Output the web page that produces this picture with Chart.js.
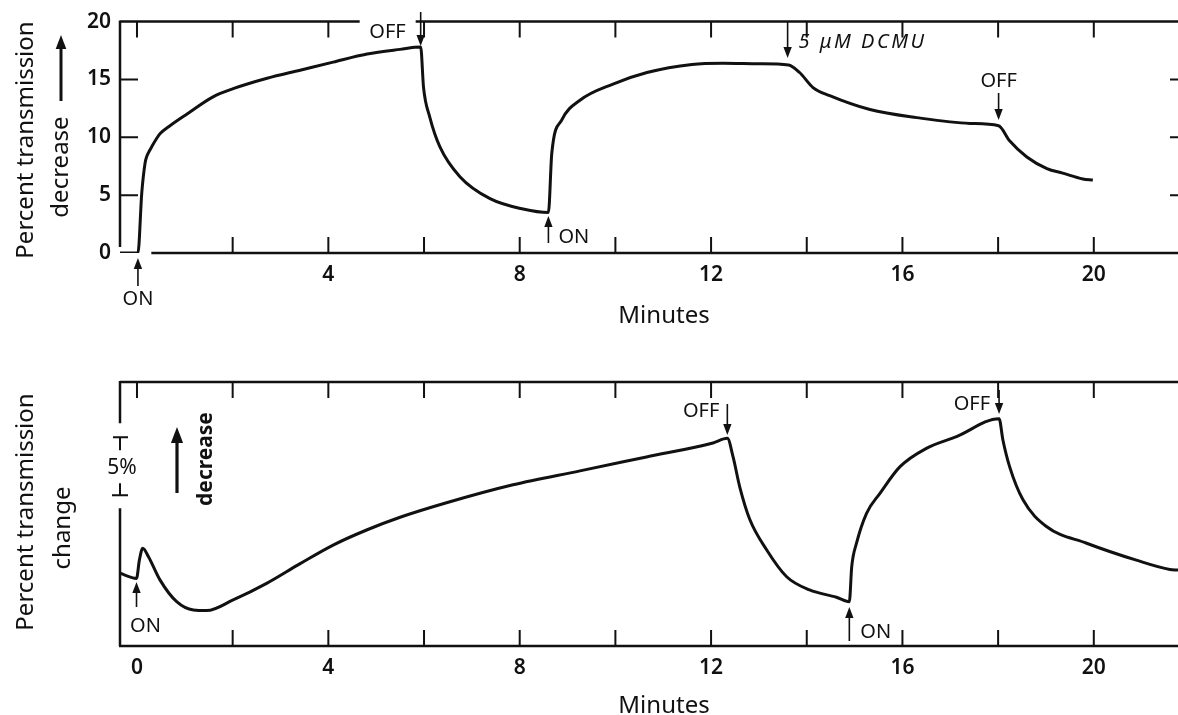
<!DOCTYPE html>
<html>
<head>
<meta charset="utf-8">
<script src="https://cdn.jsdelivr.net/npm/chart.js@4.4.1/dist/chart.umd.min.js"></script>
<style>
  html, body { margin: 0; padding: 0; background: #fff; }
  .panel { position: absolute; left: 0; }
  #top-chart { top: 0; }
  #bottom-chart { top: 345px; }
</style>
</head>
<body>
<canvas class="panel" id="top-chart" width="1178" height="345"></canvas>
<canvas class="panel" id="bottom-chart" width="1178" height="370"></canvas>
<script>
// ---- data ----
const tickMinutes = [0, 2, 4, 6, 8, 10, 12, 14, 16, 18, 20];
const topMinuteLabels = [4, 8, 12, 16, 20];
const bottomMinuteLabels = [0, 4, 8, 12, 16, 20];
const topSideTicks = [5, 10, 15];

// upper trace: percent transmission decrease vs minutes
const topMinutes = [-0.355, 0.02, 0.1, 0.17, 0.2, 0.27, 0.31, 0.41, 0.48, 0.69, 1.04, 1.59, 2.01, 2.72, 3.41, 4.1, 4.81, 5.5, 5.93, 5.99, 6.12, 6.33, 6.75, 7.38, 8.07, 8.6, 8.67, 8.88, 9.26, 9.95, 10.66, 11.6, 12.25, 13.0, 13.62, 13.85, 14.13, 14.48, 15.32, 16.3, 17.41, 18.01, 18.24, 18.6, 19.02, 19.35, 19.77, 19.98];
const topDecrease = [0, 0, 5.2, 7.8, 8.3, 8.9, 9.2, 9.9, 10.3, 11.0, 12.0, 13.5, 14.2, 15.1, 15.8, 16.5, 17.2, 17.6, 17.8, 14.3, 11.75, 9.2, 6.6, 4.7, 3.8, 3.5, 8.6, 11.5, 13.2, 14.6, 15.6, 16.3, 16.4, 16.35, 16.25, 15.6, 14.3, 13.6, 12.4, 11.7, 11.2, 11.0, 9.7, 8.3, 7.3, 6.9, 6.4, 6.3];

// lower trace: percent transmission change (relative) vs minutes
const bottomMinutes = [-0.355, -0.01, 0.05, 0.12, 0.24, 0.48, 0.83, 1.18, 1.46, 2.01, 2.71, 3.41, 4.1, 4.8, 5.5, 6.47, 7.86, 9.26, 10.65, 12.04, 12.34, 12.46, 12.6, 12.81, 13.16, 13.58, 14.06, 14.62, 14.89, 14.94, 15.04, 15.25, 15.53, 15.95, 16.5, 17.13, 18.02, 18.1, 18.24, 18.52, 19.01, 19.85, 20.89, 21.59, 21.76];
const bottomChange = [6.27, 5.83, 7.4, 8.42, 7.7, 5.7, 3.82, 3.1, 3.05, 3.97, 5.4, 7.1, 8.7, 10.0, 11.1, 12.35, 13.9, 15.1, 16.3, 17.5, 17.9, 16.3, 13.7, 10.9, 8.3, 5.97, 4.83, 4.2, 3.82, 6.84, 8.86, 11.44, 13.16, 15.46, 17.04, 18.05, 19.6, 17.76, 15.46, 12.6, 10.3, 8.86, 7.4, 6.6, 6.55];

const topEventMinutes = [0.02, 5.93, 8.6, 13.6, 18.01];
const topEventLabels = ["ON", "OFF", "ON", "5 \u03bcM DCMU", "OFF"];
const bottomEventMinutes = [-0.01, 12.34, 14.89, 18.02];
const bottomEventLabels = ["ON", "OFF", "ON", "OFF"];
const scaleBarRange = [13, 18]; // 5 % of transmission

// ---- layout ----
const INK = "#111";
const FONT = "'Noto Sans', 'DejaVu Sans', sans-serif";
const BOTTOM_TOP = 345;

// tail / tip of each arrow and the label anchor, page pixels
const topEventLayout = [
  { tail: 286, tip: 258, dx: 0, ty: 305, align: "center" },
  { tail: 12, tip: 46, dx: -15, ty: 38, align: "right", gap: true },
  { tail: 243, tip: 216, dx: 10, ty: 243, align: "left" },
  { tail: 22, tip: 58, dx: 11, ty: 48, align: "left", italic: true, spacing: "2.5px" },
  { tail: 93, tip: 120, dx: 0, ty: 87, align: "center" },
];
const bottomEventLayout = [
  { tail: 607, tip: 582, dx: 9, ty: 632, align: "center" },
  { tail: 404, tip: 435, dx: -8, ty: 417, align: "right" },
  { tail: 641, tip: 607, dx: 11, ty: 638, align: "left" },
  { tail: 390, tip: 414, dx: -9, ty: 410, align: "right" },
];

function arrow(ctx, x, yTail, yTip, width, head) {
  const dir = Math.sign(yTip - yTail);
  ctx.lineWidth = width;
  ctx.beginPath();
  ctx.moveTo(x, yTail);
  ctx.lineTo(x, yTip - dir * head * 0.8);
  ctx.stroke();
  ctx.beginPath();
  ctx.moveTo(x, yTip);
  ctx.lineTo(x - head * 0.38, yTip - dir * head);
  ctx.lineTo(x + head * 0.38, yTip - dir * head);
  ctx.closePath();
  ctx.fill();
}

function verticalText(ctx, text, x, yCenter, font) {
  ctx.save();
  ctx.translate(x, yCenter);
  ctx.rotate(-Math.PI / 2);
  ctx.font = font;
  ctx.textAlign = "center";
  ctx.textBaseline = "alphabetic";
  ctx.fillText(text, 0, 0);
  ctx.restore();
}

function drawEvents(ctx, xScale, minutes, labels, layout, offset) {
  minutes.forEach((m, i) => {
    const l = layout[i];
    const px = xScale.getPixelForValue(m);
    if (l.gap) {
      ctx.fillStyle = "#fff";
      ctx.fillRect(px - 61, 14 - offset, 56, 12);
      ctx.fillStyle = INK;
    }
    arrow(ctx, px, l.tail - offset, l.tip - offset, 1.6, 11);
    ctx.font = (l.italic ? "italic " : "") + "20px " + FONT;
    ctx.letterSpacing = l.spacing || "0px";
    ctx.textAlign = l.align;
    ctx.textBaseline = "alphabetic";
    ctx.fillText(labels[i], px + l.dx, l.ty - offset);
    ctx.letterSpacing = "0px";
  });
}

function frameTicks(ctx, a, xScale, tickLen) {
  ctx.lineWidth = 2;
  ctx.beginPath();
  tickMinutes.forEach((m) => {
    const px = xScale.getPixelForValue(m);
    ctx.moveTo(px, a.top);
    ctx.lineTo(px, a.top + tickLen);
    if (m !== 0) {
      ctx.moveTo(px, a.bottom);
      ctx.lineTo(px, a.bottom - tickLen);
    }
  });
  ctx.stroke();
}

const topDecor = {
  id: "topDecor",
  beforeDatasetsDraw(chart) {
    const { ctx, chartArea: a, scales: { x, y } } = chart;
    ctx.save();
    ctx.strokeStyle = INK;
    ctx.lineWidth = 2.5;
    ctx.beginPath();
    ctx.moveTo(a.left, a.top);
    ctx.lineTo(a.right, a.top);
    ctx.moveTo(a.left, a.top - 1);
    ctx.lineTo(a.left, a.bottom - 6);
    ctx.moveTo(x.getPixelForValue(0.3), a.bottom);
    ctx.lineTo(a.right, a.bottom);
    ctx.stroke();
    frameTicks(ctx, a, x, 16);
    ctx.beginPath();
    topSideTicks.forEach((v) => {
      const py = y.getPixelForValue(v);
      ctx.moveTo(a.left, py);
      ctx.lineTo(a.left + 18, py);
      ctx.moveTo(a.right - 8, py);
      ctx.lineTo(a.right, py);
    });
    ctx.stroke();
    ctx.restore();
  },
  afterDraw(chart) {
    const { ctx, scales: { x } } = chart;
    ctx.save();
    ctx.fillStyle = INK;
    ctx.strokeStyle = INK;
    verticalText(ctx, "Percent transmission", 33, 140, "24px " + FONT);
    verticalText(ctx, "decrease", 68, 167, "24px " + FONT);
    arrow(ctx, 61, 101, 35, 3, 14);
    ctx.font = "24px " + FONT;
    ctx.textAlign = "center";
    ctx.fillText("Minutes", 664, 323);
    drawEvents(ctx, x, topEventMinutes, topEventLabels, topEventLayout, 0);
    ctx.restore();
  },
};

const bottomDecor = {
  id: "bottomDecor",
  beforeDatasetsDraw(chart) {
    const { ctx, chartArea: a, scales: { x, y } } = chart;
    const barTop = y.getPixelForValue(scaleBarRange[1]);
    const barBottom = y.getPixelForValue(scaleBarRange[0]);
    ctx.save();
    ctx.strokeStyle = INK;
    ctx.fillStyle = INK;
    ctx.lineWidth = 2.5;
    ctx.beginPath();
    ctx.moveTo(a.left, a.top);
    ctx.lineTo(a.right, a.top);
    ctx.moveTo(a.left, a.top - 1);
    ctx.lineTo(a.left, barTop - 14);
    ctx.moveTo(a.left, barBottom + 13);
    ctx.lineTo(a.left, a.bottom);
    ctx.moveTo(a.left - 1, a.bottom);
    ctx.lineTo(a.right, a.bottom);
    ctx.stroke();
    frameTicks(ctx, a, x, 16);
    // 5 % scale bar
    ctx.lineWidth = 2;
    ctx.beginPath();
    ctx.moveTo(a.left - 7, barTop);
    ctx.lineTo(a.left + 8, barTop);
    ctx.moveTo(a.left, barTop);
    ctx.lineTo(a.left, barTop + 13);
    ctx.moveTo(a.left - 8, barBottom);
    ctx.lineTo(a.left + 8, barBottom);
    ctx.moveTo(a.left, barBottom);
    ctx.lineTo(a.left, barBottom - 12);
    ctx.stroke();
    ctx.font = "21px " + FONT;
    ctx.textAlign = "center";
    ctx.fillText("5%", a.left + 2, (barTop + barBottom) / 2 + 8);
    ctx.restore();
  },
  afterDraw(chart) {
    const { ctx, scales: { x } } = chart;
    const o = BOTTOM_TOP;
    ctx.save();
    ctx.fillStyle = INK;
    ctx.strokeStyle = INK;
    verticalText(ctx, "Percent transmission", 33, 512 - o, "24px " + FONT);
    verticalText(ctx, "change", 70, 528 - o, "24px " + FONT);
    arrow(ctx, 177, 493 - o, 427 - o, 3.2, 16);
    verticalText(ctx, "decrease", 212, 459 - o, "bold 21px " + FONT);
    ctx.font = "24px " + FONT;
    ctx.textAlign = "center";
    ctx.fillText("Minutes", 664, 713 - o);
    drawEvents(ctx, x, bottomEventMinutes, bottomEventLabels, bottomEventLayout, o);
    ctx.restore();
  },
};

function points(xs, ys) {
  return xs.map((m, i) => ({ x: m, y: ys[i] }));
}

function buildChart(canvasId, trace, yMax, minuteLabels, showY, areaTop, xHeight, plugin) {
  return new Chart(document.getElementById(canvasId), {
    type: "line",
    data: {
      datasets: [
        {
          data: trace,
          borderColor: INK,
          borderWidth: 3,
          pointRadius: 0,
          cubicInterpolationMode: "monotone",
          fill: false,
        },
      ],
    },
    options: {
      responsive: false,
      animation: false,
      events: [],
      layout: { padding: { top: areaTop, left: 0, right: 0, bottom: 0 } },
      plugins: { legend: { display: false }, tooltip: { enabled: false } },
      scales: {
        x: {
          type: "linear",
          min: -0.355,
          max: 21.76,
          afterBuildTicks: (s) => {
            s.ticks = tickMinutes.map((v) => ({ value: v }));
          },
          afterFit: (s) => {
            s.height = xHeight;
          },
          grid: { display: false, drawTicks: false },
          border: { display: false },
          ticks: {
            padding: 9,
            color: INK,
            font: { family: FONT, size: 21, weight: "600" },
            maxRotation: 0,
            autoSkip: false,
            callback: (v) => (minuteLabels.includes(v) ? String(v) : ""),
          },
        },
        y: {
          min: 0,
          max: yMax,
          afterFit: (s) => {
            s.width = 120;
          },
          grid: { display: false, drawTicks: false },
          border: { display: false },
          ticks: {
            display: showY,
            stepSize: 5,
            padding: 9,
            color: INK,
            font: { family: FONT, size: 21, weight: "600" },
          },
        },
      },
    },
    plugins: [plugin],
  });
}

buildChart("top-chart", points(topMinutes, topDecrease), 20, topMinuteLabels, true, 20, 92, topDecor);
buildChart("bottom-chart", points(bottomMinutes, bottomChange), 22.76, bottomMinuteLabels, false, 37, 69, bottomDecor);
</script>
</body>
</html>
